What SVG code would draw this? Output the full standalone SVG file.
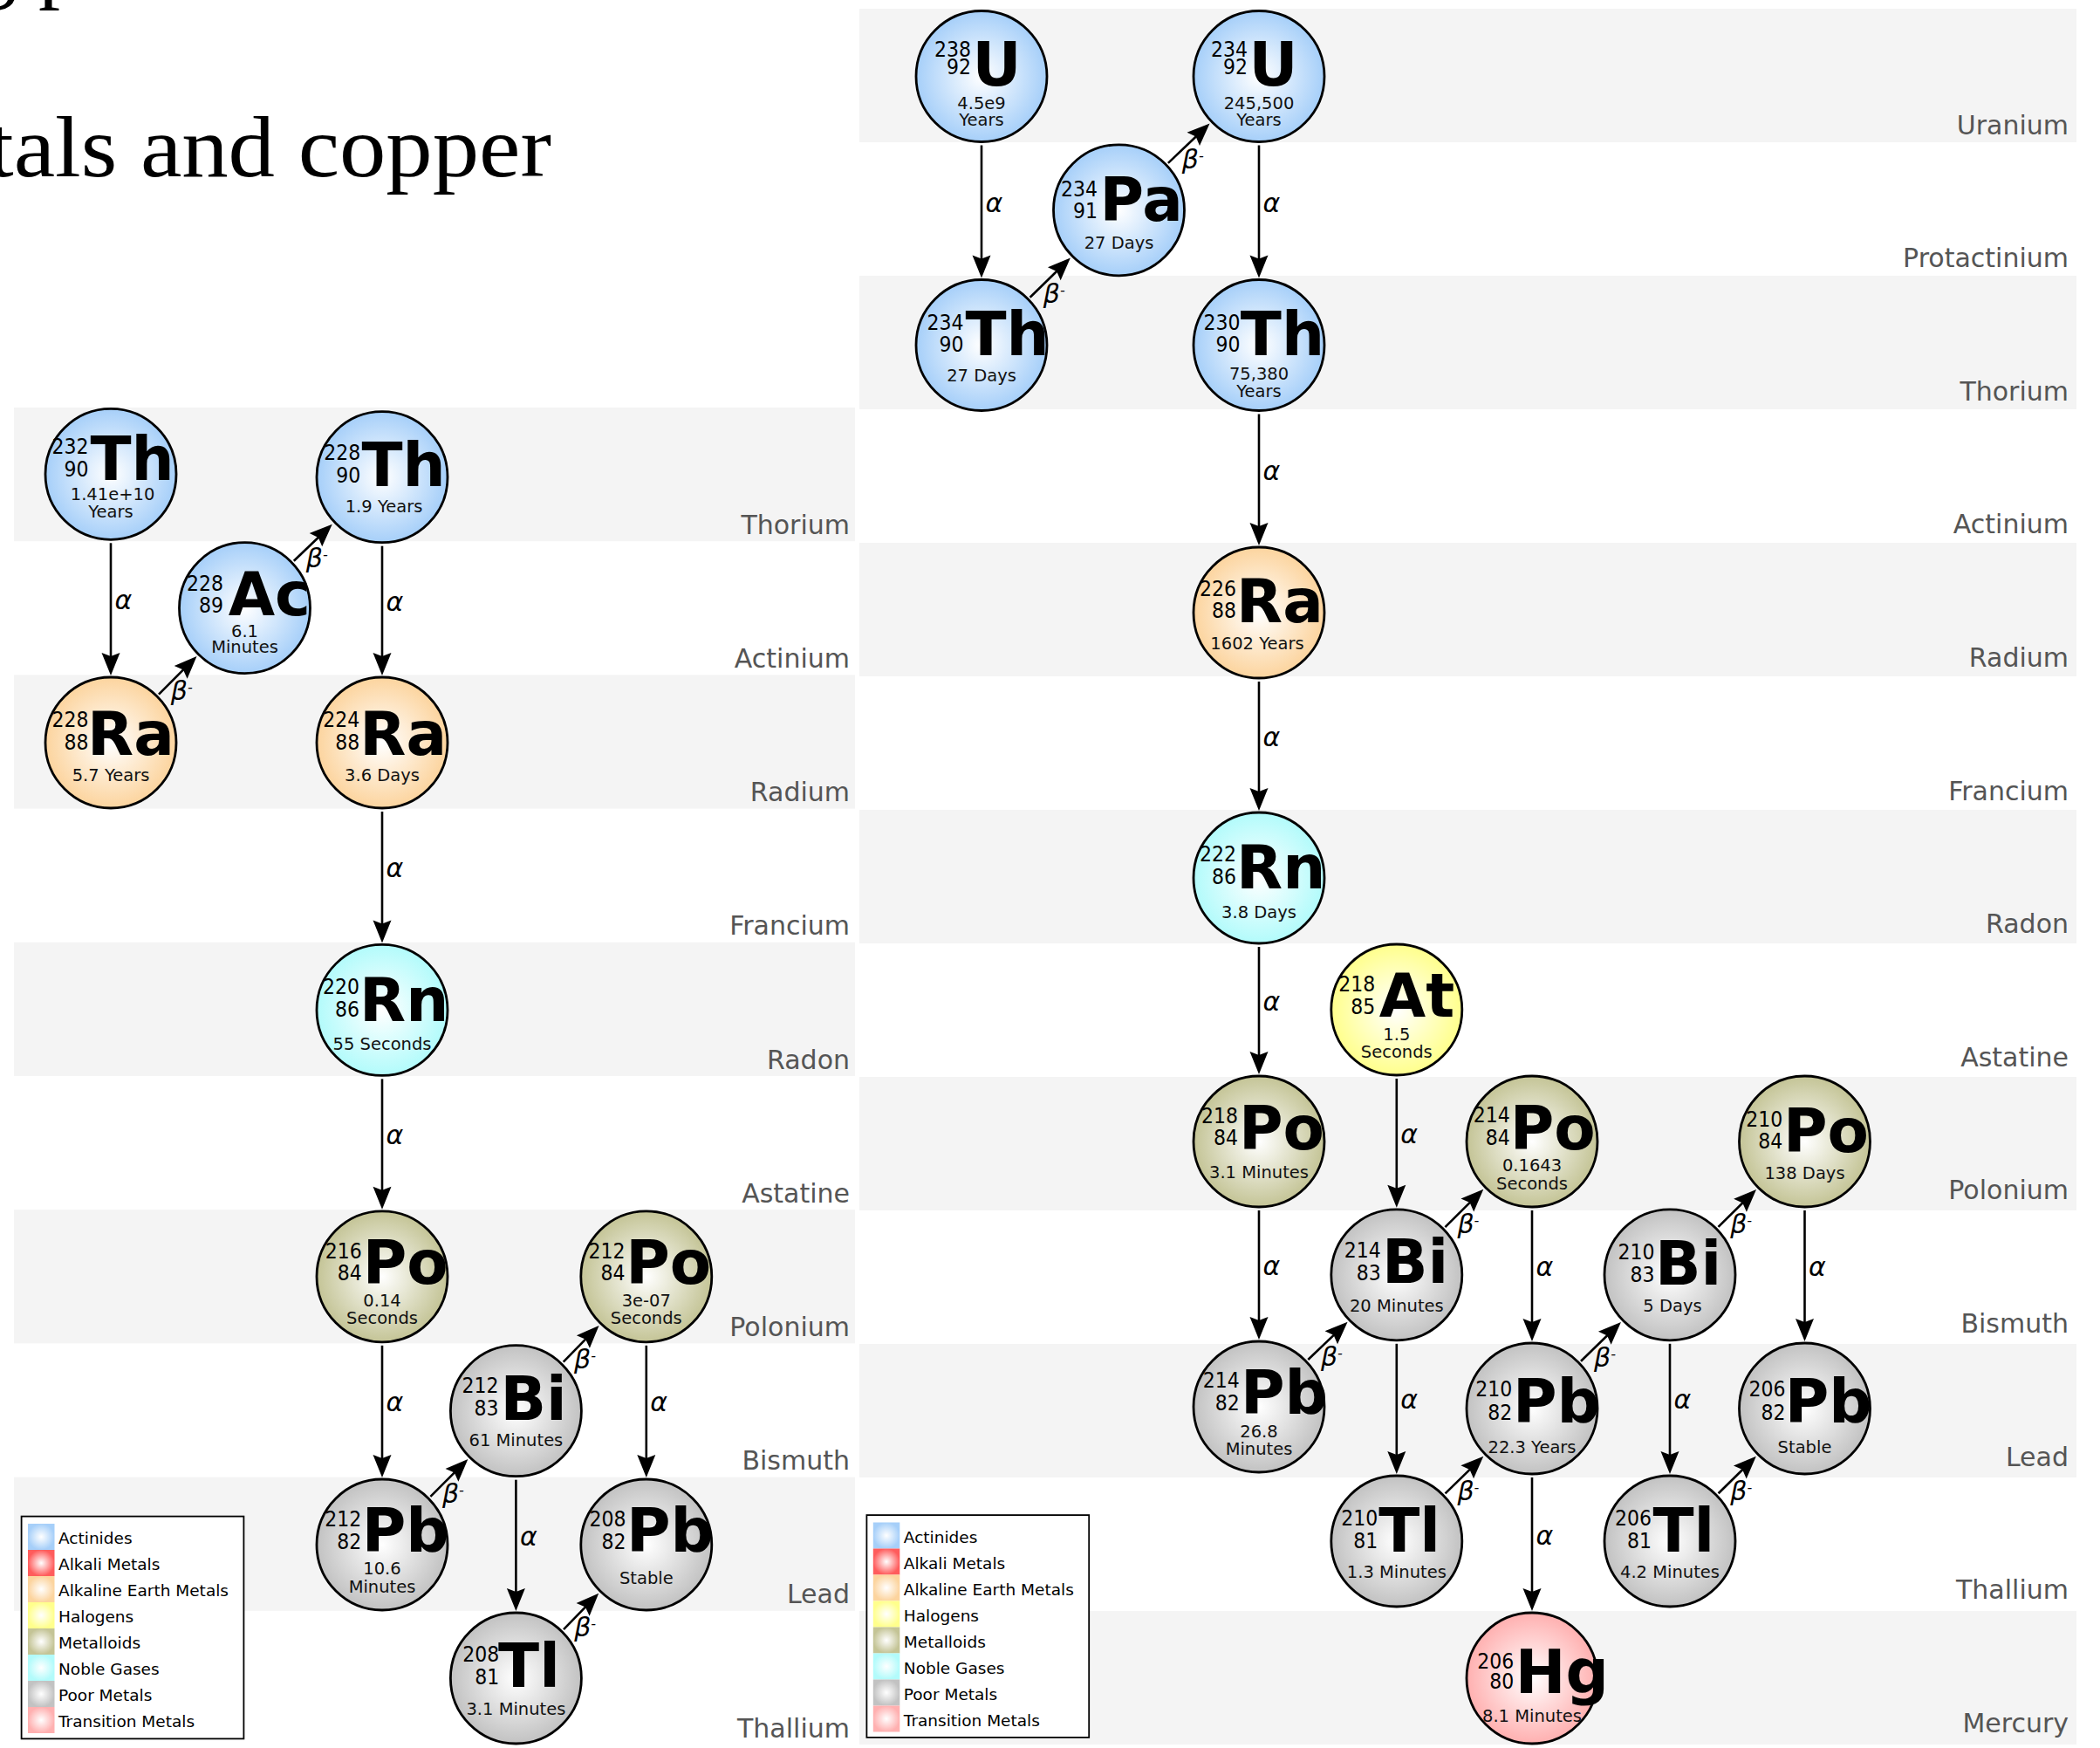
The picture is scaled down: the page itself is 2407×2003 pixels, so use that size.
<svg xmlns="http://www.w3.org/2000/svg" xmlns:xlink="http://www.w3.org/1999/xlink" width="2407" height="2003" viewBox="0 0 2407 2003">
  <style>
    .band{fill:#f4f4f4}
    .lbl{font-family:"DejaVu Sans",sans-serif;font-size:30px;fill:#555;text-anchor:end}
    .node circle{stroke:#000;stroke-width:2.8}
    .num{font-family:"DejaVu Sans",sans-serif;font-size:25px;text-anchor:end;fill:#000}
    .sym{font-family:"DejaVu Sans",sans-serif;font-size:69px;font-weight:bold;fill:#000}
    .hl{font-family:"DejaVu Sans",sans-serif;font-size:19.5px;text-anchor:middle;fill:#111}
    .edges line{stroke:#000;stroke-width:2.6;marker-end:url(#ah)}
    .ea{font-family:"DejaVu Sans",sans-serif;font-size:30px;font-style:italic;fill:#000}
    .eb{font-family:"DejaVu Sans",sans-serif;font-size:30px;font-style:italic;fill:#000}
    .leg-t{font-family:"DejaVu Sans",sans-serif;font-size:18.5px;fill:#000}
    .title{font-family:"Liberation Serif",serif;font-size:100px;fill:#000}
    .act{fill:url(#g-act)} .alk{fill:url(#g-alk)} .ae{fill:url(#g-ae)} .hal{fill:url(#g-hal)}
    .met{fill:url(#g-met)} .ng{fill:url(#g-ng)} .poor{fill:url(#g-poor)} .tm{fill:url(#g-tm)}
  </style>
  <defs>
    <radialGradient id="g-act"><stop offset="0" stop-color="#ffffff"/><stop offset="1" stop-color="#a6cff9"/></radialGradient>
    <radialGradient id="g-alk"><stop offset="0" stop-color="#ffffff"/><stop offset="1" stop-color="#ff5c5c"/></radialGradient>
    <radialGradient id="g-ae"><stop offset="0" stop-color="#ffffff"/><stop offset="1" stop-color="#fcd49e"/></radialGradient>
    <radialGradient id="g-hal"><stop offset="0" stop-color="#ffffff"/><stop offset="1" stop-color="#ffff8c"/></radialGradient>
    <radialGradient id="g-met"><stop offset="0" stop-color="#ffffff"/><stop offset="1" stop-color="#c4c496"/></radialGradient>
    <radialGradient id="g-ng"><stop offset="0" stop-color="#ffffff"/><stop offset="1" stop-color="#b2fbfb"/></radialGradient>
    <radialGradient id="g-poor"><stop offset="0" stop-color="#ffffff"/><stop offset="1" stop-color="#c2c2c2"/></radialGradient>
    <radialGradient id="g-tm"><stop offset="0" stop-color="#ffffff"/><stop offset="1" stop-color="#ffb0b0"/></radialGradient>
    <marker id="ah" markerUnits="userSpaceOnUse" orient="auto" markerWidth="30" markerHeight="24" refX="0" refY="0" overflow="visible">
      <path d="M20,0 L-6,-10.5 L-2,0 L-6,10.5 Z" fill="#000"/>
    </marker>
    <g id="legend">
      <rect x="24.6" y="1737.6" width="254.8" height="254.8" fill="#fff" stroke="#000" stroke-width="1.8"/>
      <rect class="act" x="32" y="1746" width="30.5" height="30"/>
      <rect class="alk" x="32" y="1776" width="30.5" height="30"/>
      <rect class="ae" x="32" y="1806" width="30.5" height="30"/>
      <rect class="hal" x="32" y="1836" width="30.5" height="30"/>
      <rect class="met" x="32" y="1866" width="30.5" height="30"/>
      <rect class="ng" x="32" y="1896" width="30.5" height="30"/>
      <rect class="poor" x="32" y="1926" width="30.5" height="30"/>
      <rect class="tm" x="32" y="1956" width="30.5" height="30"/>
      <text class="leg-t" x="67" y="1769">Actinides</text>
      <text class="leg-t" x="67" y="1799">Alkali Metals</text>
      <text class="leg-t" x="67" y="1829">Alkaline Earth Metals</text>
      <text class="leg-t" x="67" y="1859">Halogens</text>
      <text class="leg-t" x="67" y="1889">Metalloids</text>
      <text class="leg-t" x="67" y="1919">Noble Gases</text>
      <text class="leg-t" x="67" y="1949">Poor Metals</text>
      <text class="leg-t" x="67" y="1979">Transition Metals</text>
    </g>
  </defs>

  <rect x="0" y="0" width="2407" height="2003" fill="#fff"/>

  <!-- page heading, running off the left edge -->
  <g id="heading">
    <text class="title" x="-31" y="-9">g p</text>
    <text class="title" x="-14" y="202" textLength="646" lengthAdjust="spacingAndGlyphs">tals and copper</text>
  </g>

  <!-- thorium series: element rows -->
  <g id="rows-thorium">
    <rect class="band" x="16" y="467" width="964" height="153.2"/>
    <rect class="band" x="16" y="773.4" width="964" height="153.2"/>
    <rect class="band" x="16" y="1079.8" width="964" height="153.2"/>
    <rect class="band" x="16" y="1386.2" width="964" height="153.2"/>
    <rect class="band" x="16" y="1692.6" width="964" height="153.2"/>
    <text class="lbl" x="974" y="611.7">Thorium</text>
    <text class="lbl" x="974" y="764.9">Actinium</text>
    <text class="lbl" x="974" y="918.1">Radium</text>
    <text class="lbl" x="974" y="1071.3">Francium</text>
    <text class="lbl" x="974" y="1224.5">Radon</text>
    <text class="lbl" x="974" y="1377.7">Astatine</text>
    <text class="lbl" x="974" y="1530.9">Polonium</text>
    <text class="lbl" x="974" y="1684.1">Bismuth</text>
    <text class="lbl" x="974" y="1837.3">Lead</text>
    <text class="lbl" x="974" y="1990.5">Thallium</text>
  </g>

  <!-- uranium series: element rows -->
  <g id="rows-uranium">
    <rect class="band" x="985" y="10" width="1395" height="153"/>
    <rect class="band" x="985" y="316" width="1395" height="153"/>
    <rect class="band" x="985" y="622" width="1395" height="153"/>
    <rect class="band" x="985" y="928" width="1395" height="153"/>
    <rect class="band" x="985" y="1234" width="1395" height="153"/>
    <rect class="band" x="985" y="1540" width="1395" height="153"/>
    <rect class="band" x="985" y="1846" width="1395" height="153"/>
    <text class="lbl" x="2371" y="153.5">Uranium</text>
    <text class="lbl" x="2371" y="306.1">Protactinium</text>
    <text class="lbl" x="2371" y="458.7">Thorium</text>
    <text class="lbl" x="2371" y="611.3">Actinium</text>
    <text class="lbl" x="2371" y="763.9">Radium</text>
    <text class="lbl" x="2371" y="916.5">Francium</text>
    <text class="lbl" x="2371" y="1069.1">Radon</text>
    <text class="lbl" x="2371" y="1221.7">Astatine</text>
    <text class="lbl" x="2371" y="1374.3">Polonium</text>
    <text class="lbl" x="2371" y="1526.9">Bismuth</text>
    <text class="lbl" x="2371" y="1679.5">Lead</text>
    <text class="lbl" x="2371" y="1832.1">Thallium</text>
    <text class="lbl" x="2371" y="1984.7">Mercury</text>
  </g>

  <!-- decay arrows -->
  <g id="connectors" class="edges">
    <!-- uranium series, alpha -->
    <line x1="1125" y1="166.5" x2="1125" y2="298.5"/>
    <line x1="1443" y1="166.5" x2="1443" y2="298.5"/>
    <line x1="1443" y1="474.5" x2="1443" y2="605"/>
    <line x1="1443" y1="781" x2="1443" y2="909"/>
    <line x1="1443" y1="1085" x2="1443" y2="1211"/>
    <line x1="1600.8" y1="1236" x2="1600.8" y2="1363.8"/>
    <line x1="1443" y1="1387" x2="1443" y2="1515"/>
    <line x1="1600.8" y1="1539.8" x2="1600.8" y2="1669"/>
    <line x1="1756" y1="1387" x2="1756" y2="1517"/>
    <line x1="1756" y1="1693" x2="1756" y2="1826"/>
    <line x1="1914" y1="1539.8" x2="1914" y2="1669"/>
    <line x1="2068.5" y1="1387" x2="2068.5" y2="1517"/>
    <!-- uranium series, beta -->
    <line x1="1180.6" y1="340.8" x2="1212.6" y2="309.5"/>
    <line x1="1338.9" y1="186.9" x2="1372.1" y2="155.2"/>
    <line x1="1656.4" y1="1406.1" x2="1686.1" y2="1376.7"/>
    <line x1="1499.3" y1="1558" x2="1530.1" y2="1528.6"/>
    <line x1="1812" y1="1559.7" x2="1843.6" y2="1529"/>
    <line x1="1656.5" y1="1711.4" x2="1686" y2="1682.6"/>
    <line x1="1969.5" y1="1405.9" x2="1998.8" y2="1377"/>
    <line x1="1969.6" y1="1711.3" x2="1998.6" y2="1682.7"/>
    <!-- thorium series, alpha -->
    <line x1="127" y1="622.3" x2="127" y2="754"/>
    <line x1="438" y1="625.7" x2="438" y2="754"/>
    <line x1="438" y1="930" x2="438" y2="1060.4"/>
    <line x1="438" y1="1236.4" x2="438" y2="1365.8"/>
    <line x1="438" y1="1541.8" x2="438" y2="1673"/>
    <line x1="591.4" y1="1695.7" x2="591.4" y2="1826"/>
    <line x1="740.8" y1="1541.8" x2="740.8" y2="1673"/>
    <!-- thorium series, beta -->
    <line x1="182" y1="795.7" x2="211.4" y2="766.2"/>
    <line x1="336.8" y1="642.7" x2="366.3" y2="614.5"/>
    <line x1="493.4" y1="1714.8" x2="522.2" y2="1686.1"/>
    <line x1="645.7" y1="1560.7" x2="672.6" y2="1533.2"/>
    <line x1="646" y1="1867.2" x2="672.3" y2="1840.1"/>

    <!-- arrow labels -->
    <text class="ea" x="1129.5" y="242.5">α</text>
    <text class="ea" x="1447.5" y="242.5">α</text>
    <text class="ea" x="1447.5" y="550">α</text>
    <text class="ea" x="1447.5" y="855">α</text>
    <text class="ea" x="1447.5" y="1158">α</text>
    <text class="ea" x="1605.3" y="1310">α</text>
    <text class="ea" x="1447.5" y="1461">α</text>
    <text class="ea" x="1605.3" y="1614.4">α</text>
    <text class="ea" x="1760.5" y="1462">α</text>
    <text class="ea" x="1760.5" y="1769.5">α</text>
    <text class="ea" x="1918.5" y="1614.4">α</text>
    <text class="ea" x="2073" y="1462">α</text>
    <text class="ea" x="131.5" y="698">α</text>
    <text class="ea" x="442.5" y="700">α</text>
    <text class="ea" x="442.5" y="1005">α</text>
    <text class="ea" x="442.5" y="1311">α</text>
    <text class="ea" x="442.5" y="1617.4">α</text>
    <text class="ea" x="595.9" y="1771">α</text>
    <text class="ea" x="745.3" y="1617.4">α</text>

    <text class="eb" x="1195.8" y="346.7">β<tspan font-size="16" dy="-9">-</tspan></text>
    <text class="eb" x="1354.8" y="192.7">β<tspan font-size="16" dy="-9">-</tspan></text>
    <text class="eb" x="1670.4" y="1412.9">β<tspan font-size="16" dy="-9">-</tspan></text>
    <text class="eb" x="1513.9" y="1564.9">β<tspan font-size="16" dy="-9">-</tspan></text>
    <text class="eb" x="1827" y="1565.9">β<tspan font-size="16" dy="-9">-</tspan></text>
    <text class="eb" x="1670.4" y="1718.5">β<tspan font-size="16" dy="-9">-</tspan></text>
    <text class="eb" x="1983.2" y="1412.9">β<tspan font-size="16" dy="-9">-</tspan></text>
    <text class="eb" x="1983.3" y="1718.5">β<tspan font-size="16" dy="-9">-</tspan></text>
    <text class="eb" x="195.8" y="802.4">β<tspan font-size="16" dy="-9">-</tspan></text>
    <text class="eb" x="350.8" y="650.2">β<tspan font-size="16" dy="-9">-</tspan></text>
    <text class="eb" x="506.9" y="1721.9">β<tspan font-size="16" dy="-9">-</tspan></text>
    <text class="eb" x="658.1" y="1568.3">β<tspan font-size="16" dy="-9">-</tspan></text>
    <text class="eb" x="658.2" y="1875">β<tspan font-size="16" dy="-9">-</tspan></text>
  </g>

  <!-- uranium series nuclides -->
  <g id="u238" class="node" transform="translate(1125,87.5)">
    <circle r="75" class="act"/>
    <text class="num" x="-12" y="-22.5" textLength="42" lengthAdjust="spacingAndGlyphs">238</text><text class="num" x="-12" y="-2.5" textLength="28" lengthAdjust="spacingAndGlyphs">92</text>
    <text class="sym" x="-10.5" y="10.8">U</text>
    <text class="hl" y="37.5">4.5e9</text><text class="hl" y="56">Years</text>
  </g>
  <g id="u234" class="node" transform="translate(1443,87.5)">
    <circle r="75" class="act"/>
    <text class="num" x="-13" y="-22.5" textLength="42" lengthAdjust="spacingAndGlyphs">234</text><text class="num" x="-13" y="-2.5" textLength="28" lengthAdjust="spacingAndGlyphs">92</text>
    <text class="sym" x="-11.5" y="10.8">U</text>
    <text class="hl" y="37.5">245,500</text><text class="hl" y="56">Years</text>
  </g>
  <g id="pa234" class="node" transform="translate(1282.5,240.8)">
    <circle r="75" class="act"/>
    <text class="num" x="-24.5" y="-15.8" textLength="42" lengthAdjust="spacingAndGlyphs">234</text><text class="num" x="-24.5" y="9.2" textLength="28" lengthAdjust="spacingAndGlyphs">91</text>
    <text class="sym" x="-22" y="12.5">Pa</text>
    <text class="hl" y="44">27 Days</text>
  </g>
  <g id="th234" class="node" transform="translate(1125,395.5)">
    <circle r="75" class="act"/>
    <text class="num" x="-20.5" y="-17.2" textLength="42" lengthAdjust="spacingAndGlyphs">234</text><text class="num" x="-20.5" y="7.8" textLength="28" lengthAdjust="spacingAndGlyphs">90</text>
    <text class="sym" x="-18.5" y="11.8">Th</text>
    <text class="hl" y="41.2">27 Days</text>
  </g>
  <g id="th230" class="node" transform="translate(1443,395.5)">
    <circle r="75" class="act"/>
    <text class="num" x="-21.5" y="-17.2" textLength="42" lengthAdjust="spacingAndGlyphs">230</text><text class="num" x="-21.5" y="7.8" textLength="28" lengthAdjust="spacingAndGlyphs">90</text>
    <text class="sym" x="-21.2" y="11.8">Th</text>
    <text class="hl" y="39.5">75,380</text><text class="hl" y="59.5">Years</text>
  </g>
  <g id="ra226" class="node" transform="translate(1443,702)">
    <circle r="75" class="ae"/>
    <text class="num" x="-26" y="-18.7" textLength="42" lengthAdjust="spacingAndGlyphs">226</text><text class="num" x="-26" y="6.3" textLength="28" lengthAdjust="spacingAndGlyphs">88</text>
    <text class="sym" x="-26" y="11.3">Ra</text>
    <text class="hl" x="-2" y="42">1602 Years</text>
  </g>
  <g id="rn222" class="node" transform="translate(1443,1006)">
    <circle r="75" class="ng"/>
    <text class="num" x="-26" y="-18.7" textLength="42" lengthAdjust="spacingAndGlyphs">222</text><text class="num" x="-26" y="7.3" textLength="28" lengthAdjust="spacingAndGlyphs">86</text>
    <text class="sym" x="-26" y="12.3">Rn</text>
    <text class="hl" y="45.7">3.8 Days</text>
  </g>
  <g id="at218" class="node" transform="translate(1600.8,1157)">
    <circle r="75" class="hal"/>
    <text class="num" x="-24.5" y="-21" textLength="42" lengthAdjust="spacingAndGlyphs">218</text><text class="num" x="-24.5" y="4.5" textLength="28" lengthAdjust="spacingAndGlyphs">85</text>
    <text class="sym" x="-20" y="8">At</text>
    <text class="hl" y="34.5">1.5</text><text class="hl" y="54.5">Seconds</text>
  </g>
  <g id="po218" class="node" transform="translate(1443,1308)">
    <circle r="75" class="met"/>
    <text class="num" x="-24" y="-21.3" textLength="42" lengthAdjust="spacingAndGlyphs">218</text><text class="num" x="-24" y="3.7" textLength="28" lengthAdjust="spacingAndGlyphs">84</text>
    <text class="sym" x="-23" y="8.7">Po</text>
    <text class="hl" y="42">3.1 Minutes</text>
  </g>
  <g id="po214" class="node" transform="translate(1756,1308)">
    <circle r="75" class="met"/>
    <text class="num" x="-25.2" y="-22.3" textLength="42" lengthAdjust="spacingAndGlyphs">214</text><text class="num" x="-25.2" y="3.7" textLength="28" lengthAdjust="spacingAndGlyphs">84</text>
    <text class="sym" x="-25.3" y="8.7">Po</text>
    <text class="hl" y="33.7">0.1643</text><text class="hl" y="55.3">Seconds</text>
  </g>
  <g id="po210" class="node" transform="translate(2068.5,1308)">
    <circle r="75" class="met"/>
    <text class="num" x="-25.3" y="-17" textLength="42" lengthAdjust="spacingAndGlyphs">210</text><text class="num" x="-25.3" y="8.2" textLength="28" lengthAdjust="spacingAndGlyphs">84</text>
    <text class="sym" x="-24.5" y="12">Po</text>
    <text class="hl" y="43">138 Days</text>
  </g>
  <g id="bi214" class="node" transform="translate(1600.8,1460.8)">
    <circle r="75" class="poor"/>
    <text class="num" x="-18" y="-20.1" textLength="42" lengthAdjust="spacingAndGlyphs">214</text><text class="num" x="-18" y="5.9" textLength="28" lengthAdjust="spacingAndGlyphs">83</text>
    <text class="sym" x="-16.8" y="9.2">Bi</text>
    <text class="hl" y="42.5">20 Minutes</text>
  </g>
  <g id="bi210" class="node" transform="translate(1914,1460.8)">
    <circle r="75" class="poor"/>
    <text class="num" x="-17.5" y="-18" textLength="42" lengthAdjust="spacingAndGlyphs">210</text><text class="num" x="-17.5" y="8.5" textLength="28" lengthAdjust="spacingAndGlyphs">83</text>
    <text class="sym" x="-17" y="11">Bi</text>
    <text class="hl" x="3" y="42.5">5 Days</text>
  </g>
  <g id="pb214" class="node" transform="translate(1443,1612)">
    <circle r="75" class="poor"/>
    <text class="num" x="-22.2" y="-22" textLength="42" lengthAdjust="spacingAndGlyphs">214</text><text class="num" x="-22.2" y="4" textLength="28" lengthAdjust="spacingAndGlyphs">82</text>
    <text class="sym" x="-21" y="8">Pb</text>
    <text class="hl" y="34.7">26.8</text><text class="hl" y="54.7">Minutes</text>
  </g>
  <g id="pb210" class="node" transform="translate(1756,1614)">
    <circle r="75" class="poor"/>
    <text class="num" x="-22.8" y="-14" textLength="42" lengthAdjust="spacingAndGlyphs">210</text><text class="num" x="-22.8" y="12.7" textLength="28" lengthAdjust="spacingAndGlyphs">82</text>
    <text class="sym" x="-22" y="16">Pb</text>
    <text class="hl" y="51">22.3 Years</text>
  </g>
  <g id="pb206" class="node" transform="translate(2068.5,1614)">
    <circle r="75" class="poor"/>
    <text class="num" x="-22" y="-14" textLength="42" lengthAdjust="spacingAndGlyphs">206</text><text class="num" x="-22" y="12.7" textLength="28" lengthAdjust="spacingAndGlyphs">82</text>
    <text class="sym" x="-22.8" y="16">Pb</text>
    <text class="hl" y="51">Stable</text>
  </g>
  <g id="tl210" class="node" transform="translate(1600.8,1766)">
    <circle r="75" class="poor"/>
    <text class="num" x="-21.5" y="-18.3" textLength="42" lengthAdjust="spacingAndGlyphs">210</text><text class="num" x="-21.5" y="7.7" textLength="28" lengthAdjust="spacingAndGlyphs">81</text>
    <text class="sym" x="-20.5" y="11.7">Tl</text>
    <text class="hl" y="42.3">1.3 Minutes</text>
  </g>
  <g id="tl206" class="node" transform="translate(1914,1766)">
    <circle r="75" class="poor"/>
    <text class="num" x="-21" y="-18.3" textLength="42" lengthAdjust="spacingAndGlyphs">206</text><text class="num" x="-21" y="7.7" textLength="28" lengthAdjust="spacingAndGlyphs">81</text>
    <text class="sym" x="-19.5" y="11.7">Tl</text>
    <text class="hl" y="42.3">4.2 Minutes</text>
  </g>
  <g id="hg206" class="node" transform="translate(1756,1923)">
    <circle r="75" class="tm"/>
    <text class="num" x="-20.7" y="-11.3" textLength="42" lengthAdjust="spacingAndGlyphs">206</text><text class="num" x="-20.7" y="12" textLength="28" lengthAdjust="spacingAndGlyphs">80</text>
    <text class="sym" x="-19.2" y="17">Hg</text>
    <text class="hl" y="50">8.1 Minutes</text>
  </g>

  <!-- thorium series nuclides -->
  <g id="th232" class="node" transform="translate(127,543.3)">
    <circle r="75" class="act"/>
    <text class="num" x="-25.5" y="-23.3" textLength="42" lengthAdjust="spacingAndGlyphs">232</text><text class="num" x="-25.5" y="2.7" textLength="28" lengthAdjust="spacingAndGlyphs">90</text>
    <text class="sym" x="-23.5" y="6.7">Th</text>
    <text class="hl" x="2" y="29.4">1.41e+10</text><text class="hl" y="49.4">Years</text>
  </g>
  <g id="th228" class="node" transform="translate(438,546.7)">
    <circle r="75" class="act"/>
    <text class="num" x="-24.8" y="-19.4" textLength="42" lengthAdjust="spacingAndGlyphs">228</text><text class="num" x="-24.8" y="6" textLength="28" lengthAdjust="spacingAndGlyphs">90</text>
    <text class="sym" x="-23.5" y="10">Th</text>
    <text class="hl" x="2" y="40">1.9 Years</text>
  </g>
  <g id="ac228" class="node" transform="translate(280.5,696.7)">
    <circle r="75" class="act"/>
    <text class="num" x="-24.5" y="-20" textLength="42" lengthAdjust="spacingAndGlyphs">228</text><text class="num" x="-24.5" y="5" textLength="28" lengthAdjust="spacingAndGlyphs">89</text>
    <text class="sym" x="-18.8" y="8.3">Ac</text>
    <text class="hl" y="33.3">6.1</text><text class="hl" y="51.6">Minutes</text>
  </g>
  <g id="ra228" class="node" transform="translate(127,851)">
    <circle r="75" class="ae"/>
    <text class="num" x="-25.5" y="-17.7" textLength="42" lengthAdjust="spacingAndGlyphs">228</text><text class="num" x="-25.5" y="8.3" textLength="28" lengthAdjust="spacingAndGlyphs">88</text>
    <text class="sym" x="-27" y="14">Ra</text>
    <text class="hl" y="44">5.7 Years</text>
  </g>
  <g id="ra224" class="node" transform="translate(438,851)">
    <circle r="75" class="ae"/>
    <text class="num" x="-25.8" y="-17.7" textLength="42" lengthAdjust="spacingAndGlyphs">224</text><text class="num" x="-25.8" y="8.3" textLength="28" lengthAdjust="spacingAndGlyphs">88</text>
    <text class="sym" x="-25.7" y="14">Ra</text>
    <text class="hl" y="44">3.6 Days</text>
  </g>
  <g id="rn220" class="node" transform="translate(438,1157.4)">
    <circle r="75" class="ng"/>
    <text class="num" x="-26" y="-18.7" textLength="42" lengthAdjust="spacingAndGlyphs">220</text><text class="num" x="-26" y="7.3" textLength="28" lengthAdjust="spacingAndGlyphs">86</text>
    <text class="sym" x="-26" y="12.3">Rn</text>
    <text class="hl" y="45.7">55 Seconds</text>
  </g>
  <g id="po216" class="node" transform="translate(438,1462.8)">
    <circle r="75" class="met"/>
    <text class="num" x="-23.2" y="-21" textLength="42" lengthAdjust="spacingAndGlyphs">216</text><text class="num" x="-23.2" y="4.5" textLength="28" lengthAdjust="spacingAndGlyphs">84</text>
    <text class="sym" x="-22.3" y="8">Po</text>
    <text class="hl" y="34.5">0.14</text><text class="hl" y="54.5">Seconds</text>
  </g>
  <g id="po212" class="node" transform="translate(740.8,1462.8)">
    <circle r="75" class="met"/>
    <text class="num" x="-24.3" y="-21" textLength="42" lengthAdjust="spacingAndGlyphs">212</text><text class="num" x="-24.3" y="4.5" textLength="28" lengthAdjust="spacingAndGlyphs">84</text>
    <text class="sym" x="-23.5" y="8">Po</text>
    <text class="hl" y="34.5">3e-07</text><text class="hl" y="54.5">Seconds</text>
  </g>
  <g id="bi212" class="node" transform="translate(591.4,1616.7)">
    <circle r="75" class="poor"/>
    <text class="num" x="-19.9" y="-20.7" textLength="42" lengthAdjust="spacingAndGlyphs">212</text><text class="num" x="-19.9" y="5" textLength="28" lengthAdjust="spacingAndGlyphs">83</text>
    <text class="sym" x="-18" y="10">Bi</text>
    <text class="hl" y="40">61 Minutes</text>
  </g>
  <g id="pb212" class="node" transform="translate(438,1770)">
    <circle r="75" class="poor"/>
    <text class="num" x="-23.8" y="-20.7" textLength="42" lengthAdjust="spacingAndGlyphs">212</text><text class="num" x="-23.8" y="5" textLength="28" lengthAdjust="spacingAndGlyphs">82</text>
    <text class="sym" x="-23.3" y="8.3">Pb</text>
    <text class="hl" y="34">10.6</text><text class="hl" y="55">Minutes</text>
  </g>
  <g id="pb208" class="node" transform="translate(740.8,1770)">
    <circle r="75" class="poor"/>
    <text class="num" x="-23.3" y="-20.7" textLength="42" lengthAdjust="spacingAndGlyphs">208</text><text class="num" x="-23.3" y="5" textLength="28" lengthAdjust="spacingAndGlyphs">82</text>
    <text class="sym" x="-22.8" y="8.3">Pb</text>
    <text class="hl" y="45">Stable</text>
  </g>
  <g id="tl208" class="node" transform="translate(591.4,1923)">
    <circle r="75" class="poor"/>
    <text class="num" x="-19.1" y="-19" textLength="42" lengthAdjust="spacingAndGlyphs">208</text><text class="num" x="-19.1" y="7" textLength="28" lengthAdjust="spacingAndGlyphs">81</text>
    <text class="sym" x="-20.3" y="10.3">Tl</text>
    <text class="hl" y="42">3.1 Minutes</text>
  </g>

  <!-- colour keys -->
  <g id="legend-thorium"><use xlink:href="#legend" href="#legend"/></g>
  <g id="legend-uranium" transform="translate(968.8,-1.5)"><use xlink:href="#legend" href="#legend"/></g>
</svg>
